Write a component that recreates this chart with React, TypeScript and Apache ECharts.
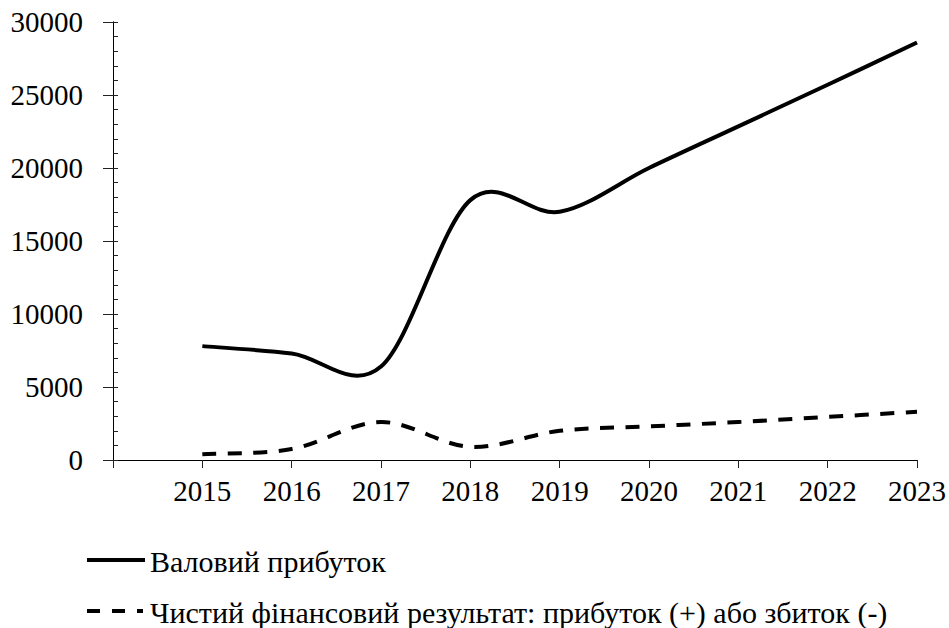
import React, { useEffect, useRef } from "react";
import * as echarts from "echarts";

const categories = ["", "2015", "2016", "2017", "2018", "2019", "2020", "2021", "2022", "2023"];
const grossProfit = [null, 7800, 7300, 6400, 17800, 17000, 20000, 22850, 25700, 28600];
const netResult = [null, 400, 750, 2600, 900, 2000, 2300, 2600, 2950, 3300];
const seriesNames = ["Валовий прибуток", "Чистий фінансовий результат: прибуток (+) або збиток (-)"];
const yMin = 0;
const yMax = 30000;
const yInterval = 5000;

const FONT = "Liberation Serif";

function toPairs(values: (number | null)[]) {
  const out: [number, number][] = [];
  values.forEach((v, i) => {
    if (v !== null) out.push([i, v]);
  });
  return out;
}

function smoothSeries(name: string, values: (number | null)[], lineDash: number[] | null) {
  const pairs = toPairs(values);
  return {
    name,
    type: "custom",
    coordinateSystem: "cartesian2d",
    data: pairs,
    encode: { x: 0, y: 1 },
    clip: false,
    renderItem: (params: any, api: any) => {
      if (params.dataIndex !== 0) return null;
      const pts = pairs.map((p) => api.coord(p));
      const n = pts.length;
      let d = `M${pts[0][0]},${pts[0][1]}`;
      for (let i = 0; i < n - 1; i++) {
        const p0 = pts[Math.max(0, i - 1)];
        const p1 = pts[i];
        const p2 = pts[i + 1];
        const p3 = pts[Math.min(n - 1, i + 2)];
        const c1x = p1[0] + (p2[0] - p0[0]) / 6;
        const c1y = p1[1] + (p2[1] - p0[1]) / 6;
        const c2x = p2[0] - (p3[0] - p1[0]) / 6;
        const c2y = p2[1] - (p3[1] - p1[1]) / 6;
        d += ` C${c1x},${c1y} ${c2x},${c2y} ${p2[0]},${p2[1]}`;
      }
      const style: any = { stroke: "#000", lineWidth: 4, fill: "none" };
      if (lineDash) style.lineDash = lineDash;
      return { type: "path", shape: { pathData: d }, style };
    },
  };
}

export default function App() {
  const ref = useRef<HTMLDivElement>(null);
  useEffect(() => {
    if (!ref.current) return;
    const chart = echarts.init(ref.current, null, { renderer: "svg" });
    const legendText = (x: number, y: number, text: string) => ({
      type: "text",
      x,
      y,
      style: { text, x: 0, y: 0, fill: "#000", fontSize: 30, fontFamily: FONT, verticalAlign: "middle", align: "left" },
    });
    chart.setOption({
      animation: false,
      backgroundColor: "#fff",
      grid: { left: 113, right: 31, top: 22, bottom: 168, containLabel: false },
      xAxis: {
        type: "category",
        data: categories,
        boundaryGap: false,
        axisLine: { lineStyle: { color: "#000", width: 1 } },
        axisTick: { show: true, length: 8, inside: false, interval: 0, lineStyle: { color: "#222" } },
        axisLabel: { interval: 0, margin: 16, fontSize: 29, fontFamily: FONT, color: "#000" },
        splitLine: { show: false },
      },
      yAxis: [
        {
          type: "value",
          min: yMin,
          max: yMax,
          interval: yInterval,
          axisLine: { show: true, lineStyle: { color: "#000", width: 1 } },
          axisTick: { show: true, length: 10, inside: false, lineStyle: { color: "#222" } },
          axisLabel: { margin: 30, fontSize: 29, fontFamily: FONT, color: "#000", formatter: (v: number) => String(v) },
          splitLine: { show: false },
        },
        {
          type: "value",
          min: yMin,
          max: yMax,
          interval: yInterval,
          position: "left",
          axisLine: { show: true, lineStyle: { color: "#000", width: 1 } },
          axisTick: { show: true, length: 5, inside: true, lineStyle: { color: "#222" } },
          minorTick: { show: true, splitNumber: 5, length: 5, lineStyle: { color: "#222" } },
          axisLabel: { show: false },
          splitLine: { show: false },
        },
      ],
      series: [smoothSeries(seriesNames[0], grossProfit, null), smoothSeries(seriesNames[1], netResult, [14, 11.5])],
      graphic: [
        { type: "line", shape: { x1: 87, y1: 560, x2: 145, y2: 560 }, style: { stroke: "#000", lineWidth: 4 } },
        legendText(150, 561, seriesNames[0]),
        { type: "line", shape: { x1: 87, y1: 611, x2: 143, y2: 611 }, style: { stroke: "#000", lineWidth: 4, lineDash: [13, 12] } },
        legendText(150, 612, seriesNames[1]),
      ],
    });
    return () => chart.dispose();
  }, []);
  return <div ref={ref} style={{ width: 949, height: 628, position: "absolute", left: 0, top: 0 }} />;
}
